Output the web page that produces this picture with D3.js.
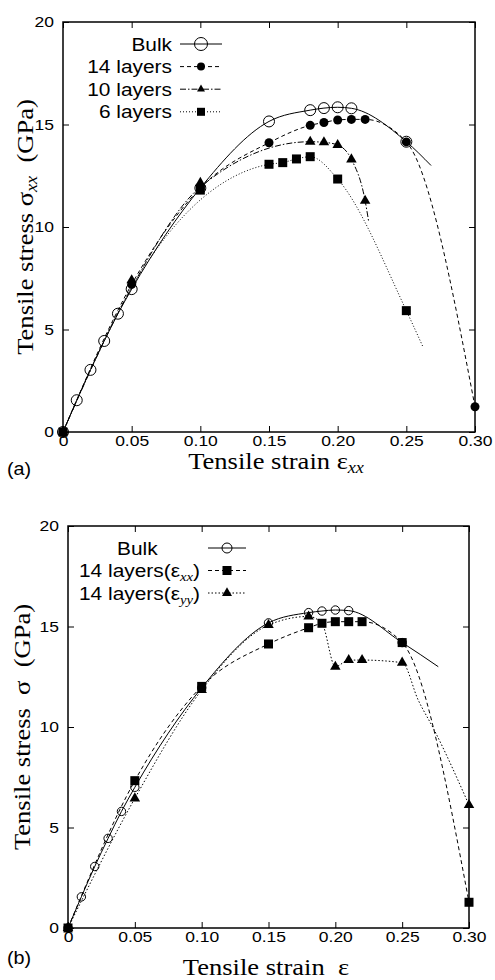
<!DOCTYPE html>
<html>
<head>
<meta charset="utf-8">
<script src="https://cdn.jsdelivr.net/npm/d3@7/dist/d3.min.js"></script>
<style>
  body { margin: 0; background: #fff; }
  svg text { fill: #000; }
  .axis .tick text { font-family: "Liberation Sans", Arial, sans-serif; font-size: 15.5px; }
  .axis line { stroke: #000; stroke-width: 1; }
  .axis path { display: none; }
  .serif { font-family: "Liberation Serif", "Times New Roman", serif; font-size: 23.5px; }
  .sans { font-family: "Liberation Sans", Arial, sans-serif; }
</style>
</head>
<body>
<svg width="495" height="980"></svg>
<script>
// ticks
var xTicks = [0, 0.05, 0.10, 0.15, 0.20, 0.25, 0.30];
var xTickLabels = ['0', '0.05', '0.10', '0.15', '0.20', '0.25', '0.30'];
var yTicks = [0, 5, 10, 15, 20];

// panel (a): markers [strain, stress GPa]
var aBulk = [[0, 0], [0.01, 1.55], [0.02, 3.03], [0.03, 4.44], [0.04, 5.77], [0.05, 6.97],
  [0.10, 11.9], [0.15, 15.15], [0.18, 15.7], [0.19, 15.8], [0.20, 15.84], [0.21, 15.79], [0.25, 14.16]];
var a14 = [[0, 0], [0.05, 7.2], [0.10, 11.9], [0.15, 14.11], [0.18, 14.96], [0.19, 15.1],
  [0.20, 15.22], [0.21, 15.25], [0.22, 15.25], [0.25, 14.15], [0.30, 1.23]];
var a10 = [[0, 0], [0.05, 7.4], [0.10, 12.15], [0.18, 14.16], [0.19, 14.13], [0.20, 14.0],
  [0.21, 13.3], [0.22, 11.28]];
var a6 = [[0, 0], [0.10, 11.8], [0.15, 13.06], [0.16, 13.14], [0.17, 13.32], [0.18, 13.43],
  [0.20, 12.34], [0.25, 5.92]];
// fitted curves where they leave the markers
var aBulkEnd = [[0.268, 13.0]];
var a10Start = [[0, 0], [0.05, 7.05], [0.10, 11.95]];
var a10End = [[0.2225, 10.3]];
var a6Start = [[0, 0], [0.05, 7.05]];
var a6End = [[0.2624, 4.11]];

// panel (b)
var bBulk = [[0, 0], [0.01, 1.55], [0.02, 3.06], [0.03, 4.46], [0.04, 5.8], [0.05, 7.0],
  [0.10, 11.95], [0.15, 15.18], [0.18, 15.69], [0.19, 15.77], [0.20, 15.82], [0.21, 15.79], [0.25, 14.2]];
var bXX = [[0, 0], [0.05, 7.33], [0.10, 12.02], [0.15, 14.13], [0.18, 14.94], [0.19, 15.16],
  [0.20, 15.24], [0.21, 15.24], [0.22, 15.24], [0.25, 14.2], [0.30, 1.28]];
var bYY = [[0, 0], [0.05, 6.45], [0.10, 11.84], [0.15, 15.07], [0.18, 15.5], [0.20, 13.0],
  [0.21, 13.33], [0.22, 13.33], [0.25, 13.2], [0.30, 6.12]];
var bBulkEnd = [[0.277, 13.0]];
var bYYLine = [[0, 0], [0.05, 6.45], [0.10, 11.84], [0.15, 15.07], [0.18, 15.5], [0.19, 15.15],
  [0.20, 13.0], [0.21, 13.33], [0.22, 13.33], [0.25, 13.2], [0.262, 11.34], [0.274, 9.85], [0.30, 6.12]];

var SX = 1.13; // the original lettering is a bit wider than the installed fonts
var svg = d3.select('svg');

function stretchText(sel, tx, ty, rot) {
  sel.attr('x', 0).attr('y', 0)
    .attr('transform', 'translate(' + tx + ',' + ty + ')' + (rot ? ' rotate(' + rot + ')' : '') + ' scale(' + SX + ',1)');
  return sel;
}

function marker(sel, type, size) {
  if (type === 'open') {
    sel.append('circle').attr('r', size).attr('fill', 'none').attr('stroke', '#000').attr('stroke-width', 1);
  } else if (type === 'dot') {
    sel.append('circle').attr('r', size).attr('fill', '#000');
  } else if (type === 'sq') {
    sel.append('rect').attr('x', -size / 2).attr('y', -size / 2).attr('width', size).attr('height', size).attr('fill', '#000');
  } else {
    sel.append('path').attr('d', d3.symbol().type(d3.symbolTriangle).size(Math.sqrt(3) / 4 * size * size)()).attr('fill', '#000');
  }
}

function panel(cfg) {
  var x = d3.scaleLinear().domain([0, 0.3]).range([cfg.left, cfg.right]);
  var y = d3.scaleLinear().domain([0, 20]).range([cfg.bottom, cfg.top]);
  var g = svg.append('g');

  g.append('g').attr('class', 'axis').attr('transform', 'translate(0,' + cfg.bottom + ')')
    .call(d3.axisBottom(x).tickValues(xTicks).tickFormat(function(d, i) { return xTickLabels[i]; })
      .tickSizeInner(-6).tickSizeOuter(0).tickPadding(3));
  g.append('g').attr('class', 'axis').attr('transform', 'translate(' + cfg.left + ',0)')
    .call(d3.axisLeft(y).tickValues(yTicks).tickFormat(d3.format('d'))
      .tickSizeInner(-6).tickSizeOuter(0).tickPadding(8));
  g.append('g').attr('class', 'axis').attr('transform', 'translate(0,' + cfg.top + ')')
    .call(d3.axisTop(x).tickValues(xTicks).tickFormat('').tickSizeInner(-6).tickSizeOuter(0));
  g.append('g').attr('class', 'axis').attr('transform', 'translate(' + cfg.right + ',0)')
    .call(d3.axisRight(y).tickValues(yTicks).tickFormat('').tickSizeInner(-6).tickSizeOuter(0));
  g.selectAll('.tick text').attr('transform', 'scale(' + SX + ',1)');

  g.append('rect')
    .attr('x', cfg.left).attr('y', cfg.top)
    .attr('width', cfg.right - cfg.left).attr('height', cfg.bottom - cfg.top)
    .attr('fill', 'none').attr('stroke', '#000').attr('stroke-width', 1.5);

  var line = d3.line()
    .x(function(d) { return x(d[0]); })
    .y(function(d) { return y(d[1]); })
    .curve(d3.curveMonotoneX);

  cfg.series.forEach(function(s) {
    g.append('path').attr('d', line(s.line))
      .attr('fill', 'none').attr('stroke', '#000').attr('stroke-width', 1)
      .attr('stroke-dasharray', s.dash);
  });
  cfg.series.forEach(function(s) {
    g.selectAll(null).data(s.pts).enter().append('g')
      .attr('transform', function(d) { return 'translate(' + x(d[0]) + ',' + y(d[1]) + ')'; })
      .each(function() { marker(d3.select(this), s.type, s.size); });
  });

  // legend
  cfg.series.forEach(function(s, i) {
    var ly = cfg.legY + i * cfg.legStep;
    g.append('line').attr('x1', cfg.legX0).attr('x2', cfg.legX1).attr('y1', ly).attr('y2', ly)
      .attr('stroke', '#000').attr('stroke-width', 1).attr('stroke-dasharray', s.dash);
    var m = g.append('g').attr('transform', 'translate(' + (cfg.legX0 + cfg.legX1) / 2 + ',' + ly + ')');
    marker(m, s.type, s.legSize);
    var t = g.append('text').attr('class', 'sans').style('font-size', '18.5px')
      .attr('text-anchor', s.anchor || 'end');
    stretchText(t, s.textX || cfg.legTextX, ly + 6.5);
    t.append('tspan').text(s.name);
    if (s.sub) {
      t.append('tspan').attr('dy', 4).style('font-size', '13px').style('font-style', 'italic')
        .style('font-family', '"Liberation Serif", serif').text(s.sub);
      t.append('tspan').attr('dy', -4).text(')');
    }
  });

  // axis titles
  var xt = g.append('text').attr('class', 'serif').attr('text-anchor', 'middle');
  stretchText(xt, cfg.xTitleX, cfg.xTitleY);
  xt.append('tspan').text(cfg.xTitle);
  if (cfg.xSub) {
    xt.append('tspan').attr('dy', 4).style('font-size', '16px').style('font-style', 'italic').text(cfg.xSub);
  }

  var yt = g.append('text').attr('class', 'serif').attr('text-anchor', 'middle');
  stretchText(yt, cfg.yTitleX, (cfg.top + cfg.bottom) / 2, -90);
  yt.append('tspan').text(cfg.yTitle);
  if (cfg.ySub) {
    yt.append('tspan').attr('dy', 4).style('font-size', '16px').style('font-style', 'italic').text(cfg.ySub);
    yt.append('tspan').attr('dy', -4).text('\u00a0\u00a0(GPa)');
  } else {
    yt.append('tspan').text('\u00a0\u00a0(GPa)');
  }

  var pl = svg.append('text').attr('class', 'sans').style('font-size', '17.5px').text(cfg.tag);
  stretchText(pl, 7, cfg.tagY);
}

panel({
  left: 63, right: 475, top: 22, bottom: 432,
  tag: '(a)', tagY: 475,
  xTitle: 'Tensile strain \u03b5', xSub: 'xx', xTitleX: 276, xTitleY: 469,
  yTitle: 'Tensile stress \u03c3', ySub: 'xx', yTitleX: 33,
  legY: 44, legStep: 22.6, legX0: 180, legX1: 222, legTextX: 172,
  series: [
    {name: 'Bulk', pts: aBulk, line: aBulk.concat(aBulkEnd), type: 'open', size: 5.5, legSize: 6.5, dash: null},
    {name: '14 layers', pts: a14, line: a14, type: 'dot', size: 4.5, legSize: 4, dash: '4,3'},
    {name: '10 layers', pts: a10, line: a10Start.concat(a10.slice(3)).concat(a10End), type: 'tri', size: 10.5, legSize: 8, dash: '6,2,1.5,2'},
    {name: '6 layers', pts: a6, line: a6Start.concat(a6.slice(2)).concat(a6End), type: 'sq', size: 9, legSize: 8, dash: '1,2'}
  ]
});

panel({
  left: 68, right: 469, top: 526, bottom: 928,
  tag: '(b)', tagY: 964,
  xTitle: 'Tensile strain \u00a0\u03b5', xSub: null, xTitleX: 266, xTitleY: 975,
  yTitle: 'Tensile stress \u00a0\u03c3', ySub: null, yTitleX: 30,
  legY: 548, legStep: 22.5, legX0: 208, legX1: 246, legTextX: 200,
  series: [
    {name: 'Bulk', pts: bBulk, line: bBulk.concat(bBulkEnd), type: 'open', size: 4.2, legSize: 5, dash: null, anchor: 'start', textX: 117},
    {name: '14 layers(\u03b5', sub: 'xx', pts: bXX, line: bXX, type: 'sq', size: 9, legSize: 9, dash: '4,3'},
    {name: '14 layers(\u03b5', sub: 'yy', pts: bYY, line: bYYLine, type: 'tri', size: 10.5, legSize: 10, dash: '1.5,2'}
  ]
});
</script>
</body>
</html>
